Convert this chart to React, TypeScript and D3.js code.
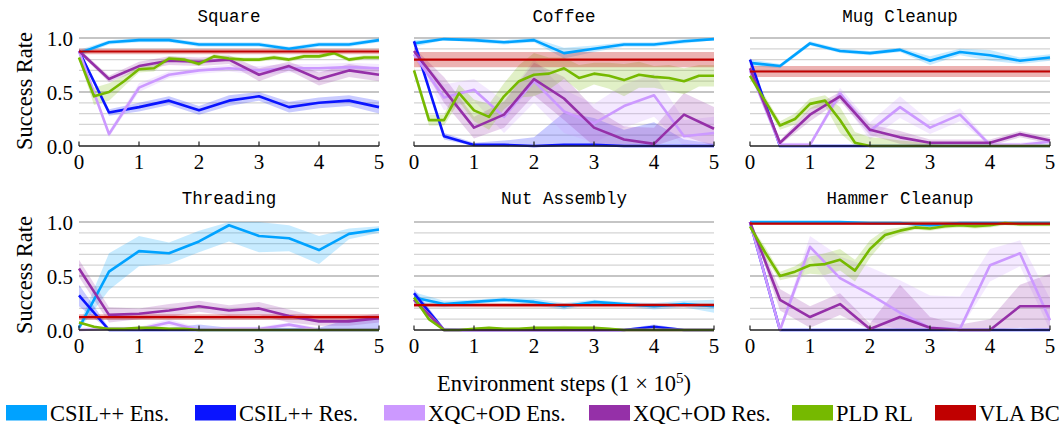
import React from "react";
import * as d3 from "d3";

// tasks and x grid (1e5 env steps)
const TASKS = ["Square", "Coffee", "Mug Cleanup", "Threading", "Nut Assembly", "Hammer Cleanup"];
const STEPS = [0, 0.5, 1, 1.5, 2, 2.5, 3, 3.5, 4, 4.5, 5];
const STEPS_FINE = [0, 0.25, 0.5, 0.75, 1, 1.25, 1.5, 1.75, 2, 2.25, 2.5, 2.75, 3, 3.25, 3.5, 3.75, 4, 4.25, 4.5, 4.75, 5];
const X_TICKS = [0, 1, 2, 3, 4, 5];
const Y_TICKS = [0, 0.5, 1];
const Y_GRID = [0.1, 0.2, 0.3, 0.4, 0.6, 0.7, 0.8, 0.9];

// CSIL++ Ens. (one row per task)
const CSIL_ENS = [
  [0.86, 0.96, 0.98, 0.98, 0.94, 0.94, 0.94, 0.9, 0.94, 0.94, 0.98],
  [0.95, 0.99, 0.98, 0.96, 0.98, 0.86, 0.9, 0.94, 0.94, 0.97, 0.99],
  [0.77, 0.74, 0.95, 0.88, 0.86, 0.89, 0.79, 0.87, 0.84, 0.79, 0.82],
  [0.02, 0.54, 0.73, 0.71, 0.82, 0.97, 0.87, 0.85, 0.74, 0.89, 0.93],
  [0.3, 0.24, 0.26, 0.28, 0.26, 0.22, 0.26, 0.24, 0.22, 0.24, 0.22],
  [1.0, 1.0, 1.0, 1.0, 0.99, 0.99, 0.97, 0.99, 0.99, 0.99, 0.99],
];
const CSIL_ENS_SD = [
  [0.03, 0.02, 0.02, 0.02, 0.02, 0.02, 0.02, 0.02, 0.02, 0.02, 0.02],
  [0.03, 0.01, 0.02, 0.02, 0.02, 0.05, 0.03, 0.02, 0.02, 0.02, 0.01],
  [0.03, 0.02, 0.02, 0.02, 0.02, 0.02, 0.04, 0.03, 0.05, 0.03, 0.03],
  [0.03, 0.17, 0.14, 0.1, 0.1, 0.15, 0.15, 0.12, 0.13, 0.05, 0.03],
  [0.05, 0.03, 0.02, 0.02, 0.03, 0.03, 0.02, 0.02, 0.03, 0.03, 0.06],
  [0.0, 0.01, 0.01, 0.01, 0.01, 0.01, 0.02, 0.01, 0.01, 0.01, 0.01],
];

// CSIL++ Res.
const CSIL_RES = [
  [0.88, 0.31, 0.36, 0.42, 0.33, 0.42, 0.46, 0.36, 0.4, 0.42, 0.36],
  [0.97, 0.09, 0.01, 0.01, 0.0, 0.01, 0.01, 0.0, 0.0, 0.0, 0.0],
  [0.8, 0.0, 0.0, 0.0, 0.0, 0.0, 0.0, 0.0, 0.0, 0.0, 0.0],
  [0.32, 0.0, 0.0, 0.0, 0.0, 0.0, 0.0, 0.0, 0.0, 0.0, 0.0],
  [0.34, 0.0, 0.0, 0.0, 0.0, 0.0, 0.0, 0.0, 0.03, 0.0, 0.0],
  [1.0, 0.0, 0.0, 0.0, 0.0, 0.0, 0.0, 0.0, 0.0, 0.0, 0.0],
];
const CSIL_RES_SD = [
  [0.02, 0.03, 0.04, 0.04, 0.04, 0.05, 0.04, 0.05, 0.05, 0.05, 0.06],
  [0.02, 0.03, 0.02, 0.04, 0.08, 0.3, 0.25, 0.15, 0.22, 0.06, 0.02],
  [0.02, 0.01, 0.01, 0.01, 0.01, 0.01, 0.01, 0.01, 0.01, 0.01, 0.01],
  [0.1, 0.02, 0.02, 0.02, 0.05, 0.02, 0.02, 0.02, 0.02, 0.1, 0.12],
  [0.04, 0.02, 0.01, 0.01, 0.01, 0.01, 0.01, 0.01, 0.02, 0.01, 0.01],
  [0.0, 0.01, 0.01, 0.01, 0.01, 0.01, 0.01, 0.01, 0.01, 0.01, 0.01],
];

// XQC+OD Ens.
const XQC_ENS = [
  [0.88, 0.11, 0.54, 0.66, 0.7, 0.72, 0.7, 0.72, 0.72, 0.73, 0.72],
  [0.85, 0.45, 0.52, 0.27, 0.6, 0.32, 0.21, 0.37, 0.47, 0.09, 0.12],
  [0.7, 0.01, 0.01, 0.49, 0.14, 0.36, 0.17, 0.29, 0.01, 0.01, 0.04],
  [0.0, 0.01, 0.01, 0.07, 0.0, 0.01, 0.01, 0.05, 0.0, 0.0, 0.0],
  [0.28, 0.0, 0.0, 0.0, 0.0, 0.0, 0.0, 0.0, 0.0, 0.0, 0.0],
  [1.0, 0.0, 0.77, 0.48, 0.33, 0.16, 0.02, 0.01, 0.6, 0.71, 0.09],
];
const XQC_ENS_SD = [
  [0.02, 0.03, 0.04, 0.03, 0.03, 0.03, 0.04, 0.04, 0.04, 0.04, 0.04],
  [0.03, 0.12, 0.1, 0.15, 0.2, 0.2, 0.18, 0.2, 0.2, 0.15, 0.15],
  [0.02, 0.02, 0.02, 0.05, 0.08, 0.1, 0.06, 0.06, 0.02, 0.02, 0.02],
  [0.02, 0.02, 0.02, 0.03, 0.02, 0.02, 0.02, 0.02, 0.02, 0.02, 0.02],
  [0.03, 0.01, 0.01, 0.01, 0.01, 0.01, 0.01, 0.01, 0.01, 0.01, 0.01],
  [0.0, 0.02, 0.1, 0.2, 0.25, 0.3, 0.3, 0.3, 0.15, 0.12, 0.2],
];

// XQC+OD Res.
const XQC_RES = [
  [0.88, 0.62, 0.74, 0.79, 0.78, 0.8, 0.66, 0.74, 0.62, 0.7, 0.66],
  [0.88, 0.52, 0.17, 0.29, 0.62, 0.44, 0.17, 0.06, 0.02, 0.29, 0.16],
  [0.72, 0.03, 0.29, 0.46, 0.15, 0.08, 0.03, 0.03, 0.03, 0.11, 0.05],
  [0.57, 0.14, 0.15, 0.18, 0.22, 0.18, 0.2, 0.13, 0.08, 0.08, 0.11],
  [0.28, 0.0, 0.0, 0.0, 0.0, 0.0, 0.0, 0.0, 0.0, 0.0, 0.0],
  [1.0, 0.28, 0.12, 0.24, 0.01, 0.12, 0.02, 0.0, 0.0, 0.22, 0.22],
];
const XQC_RES_SD = [
  [0.02, 0.03, 0.04, 0.04, 0.04, 0.04, 0.06, 0.04, 0.06, 0.06, 0.06],
  [0.03, 0.12, 0.1, 0.12, 0.15, 0.2, 0.18, 0.12, 0.15, 0.2, 0.2],
  [0.02, 0.02, 0.06, 0.04, 0.05, 0.06, 0.03, 0.03, 0.03, 0.03, 0.03],
  [0.08, 0.07, 0.05, 0.06, 0.05, 0.05, 0.06, 0.06, 0.04, 0.04, 0.04],
  [0.03, 0.01, 0.01, 0.01, 0.01, 0.01, 0.01, 0.01, 0.01, 0.01, 0.01],
  [0.0, 0.1, 0.1, 0.1, 0.05, 0.3, 0.1, 0.05, 0.1, 0.2, 0.3],
];

// PLD RL (logged every 0.25)
const PLD_RL = [
  [0.82, 0.46, 0.5, 0.6, 0.71, 0.72, 0.81, 0.8, 0.76, 0.83, 0.81, 0.8, 0.8, 0.82, 0.8, 0.83, 0.83, 0.86, 0.8, 0.82, 0.82],
  [0.7, 0.24, 0.24, 0.49, 0.33, 0.27, 0.46, 0.6, 0.66, 0.67, 0.72, 0.63, 0.67, 0.65, 0.61, 0.66, 0.64, 0.63, 0.6, 0.65, 0.65],
  [0.65, 0.42, 0.19, 0.25, 0.39, 0.42, 0.24, 0.03, 0.0, 0.0, 0.0, 0.0, 0.0, 0.0, 0.0, 0.0, 0.0, 0.0, 0.0, 0.0, 0.0],
  [0.07, 0.03, 0.01, 0.01, 0.02, 0.02, 0.01, 0.01, 0.0, 0.0, 0.0, 0.0, 0.0, 0.0, 0.0, 0.0, 0.0, 0.0, 0.0, 0.0, 0.0],
  [0.3, 0.1, 0.0, 0.0, 0.01, 0.02, 0.01, 0.01, 0.02, 0.02, 0.02, 0.02, 0.02, 0.01, 0.0, 0.0, 0.0, 0.0, 0.0, 0.0, 0.0],
  [0.96, 0.72, 0.5, 0.54, 0.6, 0.61, 0.65, 0.55, 0.75, 0.88, 0.92, 0.95, 0.94, 0.96, 0.97, 0.96, 0.97, 0.99, 0.98, 0.98, 0.98],
];
const PLD_RL_SD = [
  [0.02, 0.08, 0.08, 0.05, 0.03, 0.03, 0.02, 0.02, 0.02, 0.02, 0.02, 0.02, 0.02, 0.02, 0.02, 0.02, 0.02, 0.02, 0.02, 0.02, 0.02],
  [0.03, 0.05, 0.05, 0.08, 0.1, 0.12, 0.12, 0.15, 0.2, 0.15, 0.1, 0.12, 0.1, 0.12, 0.15, 0.12, 0.1, 0.12, 0.12, 0.1, 0.1],
  [0.02, 0.04, 0.04, 0.05, 0.05, 0.05, 0.12, 0.1, 0.08, 0.07, 0.05, 0.04, 0.02, 0.01, 0.01, 0.01, 0.01, 0.01, 0.01, 0.01, 0.01],
  [0.01, 0.01, 0.01, 0.01, 0.01, 0.01, 0.01, 0.01, 0.01, 0.01, 0.01, 0.01, 0.01, 0.01, 0.01, 0.01, 0.01, 0.01, 0.01, 0.01, 0.01],
  [0.02, 0.02, 0.01, 0.01, 0.01, 0.01, 0.01, 0.01, 0.01, 0.01, 0.02, 0.01, 0.01, 0.01, 0.01, 0.01, 0.01, 0.01, 0.01, 0.01, 0.01],
  [0.02, 0.05, 0.04, 0.05, 0.08, 0.1, 0.1, 0.1, 0.08, 0.05, 0.03, 0.02, 0.02, 0.02, 0.02, 0.02, 0.02, 0.02, 0.02, 0.02, 0.02],
];

// VLA BC (flat reference)
const VLA_BC = [0.875, 0.8, 0.69, 0.12, 0.23, 0.985];
const VLA_BC_SD = [0.025, 0.07, 0.05, 0.025, 0.02, 0.01];

const SERIES = [
  { name: "CSIL++ Ens.", color: "#00a2ff", x: STEPS, mean: CSIL_ENS, sd: CSIL_ENS_SD },
  { name: "CSIL++ Res.", color: "#0a14ff", x: STEPS, mean: CSIL_RES, sd: CSIL_RES_SD },
  { name: "XQC+OD Ens.", color: "#cc99ff", x: STEPS, mean: XQC_ENS, sd: XQC_ENS_SD },
  { name: "XQC+OD Res.", color: "#9530a8", x: STEPS, mean: XQC_RES, sd: XQC_RES_SD },
  { name: "PLD RL", color: "#76b900", x: STEPS_FINE, mean: PLD_RL, sd: PLD_RL_SD },
  { name: "VLA BC", color: "#c00000", x: [0, 5], mean: VLA_BC.map((v) => [v, v]), sd: VLA_BC_SD.map((v) => [v, v]) },
];

// layout
const W = 1062;
const H = 424;
const COL_X = [79, 414, 750];
const ROW_Y = [38, 222];
const PW = 300;
const PH = 108;
const LEGEND_X = [6, 195, 384, 589, 792, 935];
const serif = "'Liberation Serif', 'DejaVu Serif', serif";
const mono = "'Liberation Mono', 'DejaVu Sans Mono', monospace";

function Panel({ idx }: { idx: number }) {
  const col = idx % 3;
  const row = Math.floor(idx / 3);
  const x0 = COL_X[col];
  const y0 = ROW_Y[row];
  const x = d3.scaleLinear().domain([0, 5]).range([x0, x0 + PW]);
  const y = d3.scaleLinear().domain([0, 1]).range([y0 + PH, y0]);

  return (
    <g>
      <text x={x0 + PW / 2} y={row === 0 ? 21.5 : 204} textAnchor="middle" fontFamily={mono} fontSize={17.5}>
        {TASKS[idx]}
      </text>
      {Y_GRID.map((v) => (
        <line key={v} x1={x(0)} x2={x(5)} y1={y(v)} y2={y(v)} stroke="#d4d4d4" strokeWidth={1.3} />
      ))}
      {Y_TICKS.slice(1).map((v) => (
        <line key={v} x1={x(0)} x2={x(5)} y1={y(v)} y2={y(v)} stroke="#8c8c8c" strokeWidth={1.2} />
      ))}
      {SERIES.map((s) => {
        const pts = s.x.map((xv, i) => ({
          x: xv,
          lo: Math.max(0, s.mean[idx][i] - s.sd[idx][i]),
          hi: Math.min(1, s.mean[idx][i] + s.sd[idx][i]),
        }));
        const area = d3
          .area<any>()
          .x((d) => x(d.x))
          .y0((d) => y(d.lo))
          .y1((d) => y(d.hi));
        return (
          <path
            key={s.name + "band"}
            d={area(pts) || ""}
            fill={s.color}
            opacity={s.name === "VLA BC" ? 0.3 : 0.22}
          />
        );
      })}
      {SERIES.map((s) => {
        const line = d3
          .line<number>()
          .x((_, i) => x(s.x[i]))
          .y((d) => y(d));
        return (
          <path
            key={s.name}
            d={line(s.mean[idx]) || ""}
            fill="none"
            stroke={s.color}
            strokeWidth={s.name === "VLA BC" ? 2.2 : 2.6}
            strokeLinejoin="round"
          />
        );
      })}
      <line x1={x(0)} x2={x(5)} y1={y(0)} y2={y(0)} stroke="#222" strokeWidth={1.4} />
      {X_TICKS.map((t) => (
        <g key={t}>
          <line x1={x(t)} x2={x(t)} y1={y(0)} y2={y(0) - 4.5} stroke="#222" strokeWidth={1.2} />
          <text x={x(t)} y={y(0) + 22.5} textAnchor="middle" fontFamily={serif} fontSize={21}>
            {t}
          </text>
        </g>
      ))}
      {col === 0 &&
        Y_TICKS.map((t) => (
          <text key={t} x={x0 - 6} y={y(t) + 7.5} textAnchor="end" fontFamily={serif} fontSize={21}>
            {t.toFixed(1)}
          </text>
        ))}
      {col === 0 && (
        <text
          transform={`translate(${x0 - 47},${y0 + PH / 2 - 1}) rotate(-90)`}
          textAnchor="middle"
          fontFamily={serif}
          fontSize={22.5}
        >
          Success Rate
        </text>
      )}
    </g>
  );
}

export default function App() {
  return (
    <svg width={W} height={H} style={{ position: "absolute", left: 0, top: 0, background: "#fff" }}>
      {TASKS.map((_, i) => (
        <Panel key={i} idx={i} />
      ))}
      <text x={564} y={391} textAnchor="middle" fontFamily={serif} fontSize={22.5}>
        Environment steps (1 × 10
        <tspan dy={-8} fontSize={15}>
          5
        </tspan>
        <tspan dy={8}>)</tspan>
      </text>
      {SERIES.map((s, i) => (
        <g key={s.name}>
          <rect x={LEGEND_X[i]} y={405} width={41} height={15.5} fill={s.color} />
          <text x={LEGEND_X[i] + 44} y={420.5} fontFamily={serif} fontSize={22.5}>
            {s.name}
          </text>
        </g>
      ))}
    </svg>
  );
}
